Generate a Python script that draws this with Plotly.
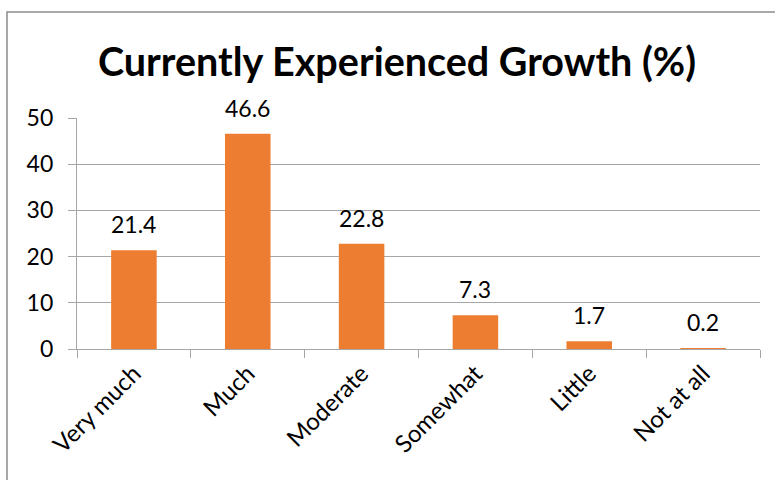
import plotly.graph_objects as go

categories = ["Very much", "Much", "Moderate", "Somewhat", "Little", "Not at all"]
values = [21.4, 46.6, 22.8, 7.3, 1.7, 0.2]
y_ticks = [0, 10, 20, 30, 40, 50]
title_text = "Currently Experienced Growth (%)"

FONT = "Lato"
W, H = 775, 480
L, R, T, B = 77, 15, 118, 131
pw, ph = W - L - R, H - T - B

fig = go.Figure()
fig.add_trace(go.Bar(
    x=categories, y=values,
    marker=dict(color="#ED7D31", line=dict(width=0)),
    hoverinfo="skip",
))

for c, v in zip(categories, values):
    fig.add_annotation(x=c, y=v, text=f"{v}", showarrow=False,
                       yanchor="middle", yshift=26,
                       font=dict(family=FONT, size=23, color="#000000"))

# chart border
fig.add_shape(type="rect", xref="paper", yref="paper",
              x0=(7 - L) / pw, x1=(W + 10 - L) / pw,
              y0=-(H + 10 - (H - B)) / ph, y1=((H - B) - 12) / ph,
              line=dict(color="#8c8c8c", width=1.5), layer="below")

fig.update_layout(
    width=W, height=H,
    margin=dict(l=L, r=R, t=T, b=B, pad=0),
    paper_bgcolor="white", plot_bgcolor="white",
    bargap=0.6,
    showlegend=False,
    title=dict(text=f"<b>{title_text}</b>", x=397 / W, xanchor="center",
               y=1 - 62 / H, yanchor="middle", xref="container", yref="container",
               font=dict(family=FONT, size=39.5, color="#000000")),
    font=dict(family=FONT, color="#000000"),
)
fig.update_xaxes(
    tickangle=-45, tickfont=dict(family=FONT, size=24, color="#000000"),
    showline=True, linecolor="#a6a6a6", linewidth=1.2,
    ticks="outside", ticklen=8, tickcolor="#a6a6a6", tickwidth=1.2,
    tickson="boundaries", showgrid=False,
)
fig.update_yaxes(
    range=[0, 50], tickvals=y_ticks,
    tickfont=dict(family=FONT, size=23, color="#000000"),
    showline=True, linecolor="#a6a6a6", linewidth=1.2,
    ticks="outside", ticklen=8, tickcolor="#a6a6a6", tickwidth=1.2,
    showgrid=True, gridcolor="#a6a6a6", gridwidth=1.2,
    zeroline=False, ticklabelstandoff=10,
)

fig.write_html("out.html")
